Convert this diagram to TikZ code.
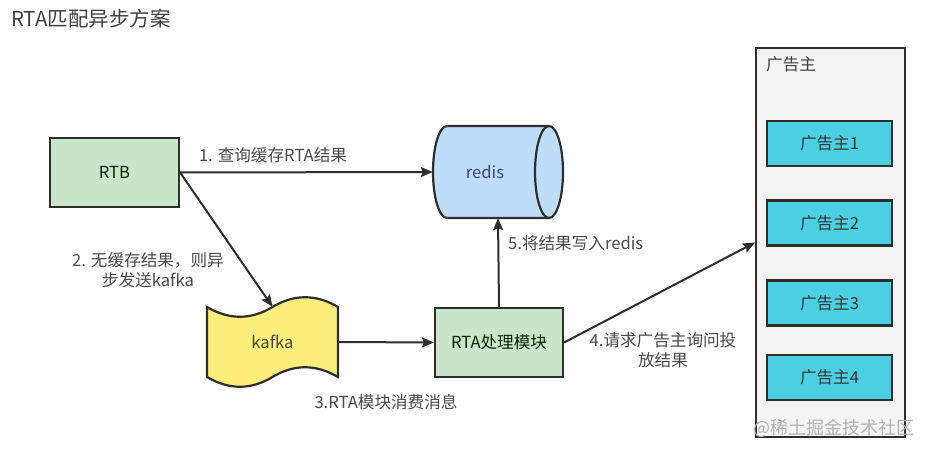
\documentclass[tikz,border=0pt]{standalone}
\usepackage{fontspec}
\setmainfont{Noto Sans CJK SC}
\usetikzlibrary{arrows.meta}
\definecolor{gfill}{HTML}{C9E6CA}
\definecolor{bfill}{HTML}{BEDDF8}
\definecolor{yfill}{HTML}{FCEE7A}
\definecolor{cfill}{HTML}{4CCFE2}
\definecolor{pfill}{HTML}{F4F4F4}
\definecolor{edge}{HTML}{2E2E2E}
\definecolor{lbl}{HTML}{4A4A4A}
\begin{document}
\begin{tikzpicture}[x=1pt,y=-1pt,
  txt/.style={font=\fontsize{16.6}{20}\selectfont},
  box/.style={draw=edge,line width=2.2pt,inner sep=0pt,txt},
  greenbox/.style={box,fill=gfill,text=black!75!green!60!black},
  adbox/.style={box,fill=cfill,minimum width=125pt,minimum height=45pt,text=black!80},
  arr/.style={draw=edge,line width=2pt,-{Stealth[length=12pt,width=10pt,inset=2pt]}},
  lab/.style={text=lbl,txt,inner sep=0pt,align=center},
]
\useasboundingbox (0,0) rectangle (928,454);
\fill[white] (0,0) rectangle (928,454);

\node[anchor=west,text=black!75,font=\fontsize{20.5}{24}\selectfont,inner sep=0pt] (title) at (11,19) {RTA匹配异步方案};

% RTB
\node[greenbox,minimum width=129pt,minimum height=69pt] (rtb) at (114.5,172.5) {RTB};

% redis cylinder
\node[minimum width=130pt,minimum height=92pt,inner sep=0pt] (redis) at (498,172) {};
\filldraw[fill=bfill,draw=edge,line width=2.2pt]
  (447,126) -- (549,126) arc[start angle=90,end angle=-90,x radius=14pt,y radius=46pt]
  -- (447,218) arc[start angle=270,end angle=90,x radius=14pt,y radius=46pt] -- cycle;
\draw[draw=edge,line width=2.2pt] (549,126) arc[start angle=90,end angle=270,x radius=14pt,y radius=46pt];
\node[text=blue!40!black!75,txt,inner sep=0pt] (redistext) at (485,172) {redis};

% kafka tape
\node[minimum width=131pt,minimum height=70pt,inner sep=0pt] (kafka) at (272.5,342) {};
\filldraw[fill=yfill,draw=edge,line width=2.2pt]
  (207,307) .. controls (229,320) and (251,320) .. (272.5,307)
  .. controls (294,294) and (316,294) .. (338,307)
  -- (338,377) .. controls (316,364) and (294,364) .. (272.5,377)
  .. controls (251,390) and (229,390) .. (207,377) -- cycle;
\node[text=black!70!yellow!60!black,txt,inner sep=0pt] (kafkatext) at (272.5,342) {kafka};

% RTA module
\node[greenbox,minimum width=128pt,minimum height=69pt] (rta) at (499,342.5) {RTA处理模块};

% advertisers container
\node[draw=edge,line width=2pt,fill=pfill,minimum width=149pt,minimum height=389pt,inner sep=0pt] (cont) at (830.5,242.5) {};
\node[anchor=west,text=black!75,txt,inner sep=0pt] (contlabel) at (766,64) {广告主};
\node[adbox] (ad1) at (829.5,143.5) {广告主1};
\node[adbox] (ad2) at (829.5,223) {广告主2};
\node[adbox] (ad3) at (829.5,303) {广告主3};
\node[adbox] (ad4) at (829.5,377.5) {广告主4};

% connectors
\draw[arr] (rtb.east) -- (redis.west);
\node[lab] (l1) at (273,155) {1. 查询缓存RTA结果};
\draw[arr] (rtb.east) -- (kafka.north);
\node[lab] (l2) at (148,270) {2. 无缓存结果，则异\\步发送kafka};
\draw[arr] (kafka.east) -- (rta.west);
\node[lab] (l3) at (386,402) {3.RTA模块消费消息};
\draw[arr] (rta.north) -- (redis.south);
\node[lab,anchor=west] (l5) at (508,243) {5.将结果写入redis};
\draw[arr] (rta.east) -- (cont.west);
\node[lab] (l4) at (663,350) {4.请求广告主询问投\\放结果};

% watermark
\node[anchor=east,text=black!30,font=\fontsize{18}{20}\selectfont,inner sep=0pt] (wm) at (915,428) {@稀土掘金技术社区};
\end{tikzpicture}
\end{document}
